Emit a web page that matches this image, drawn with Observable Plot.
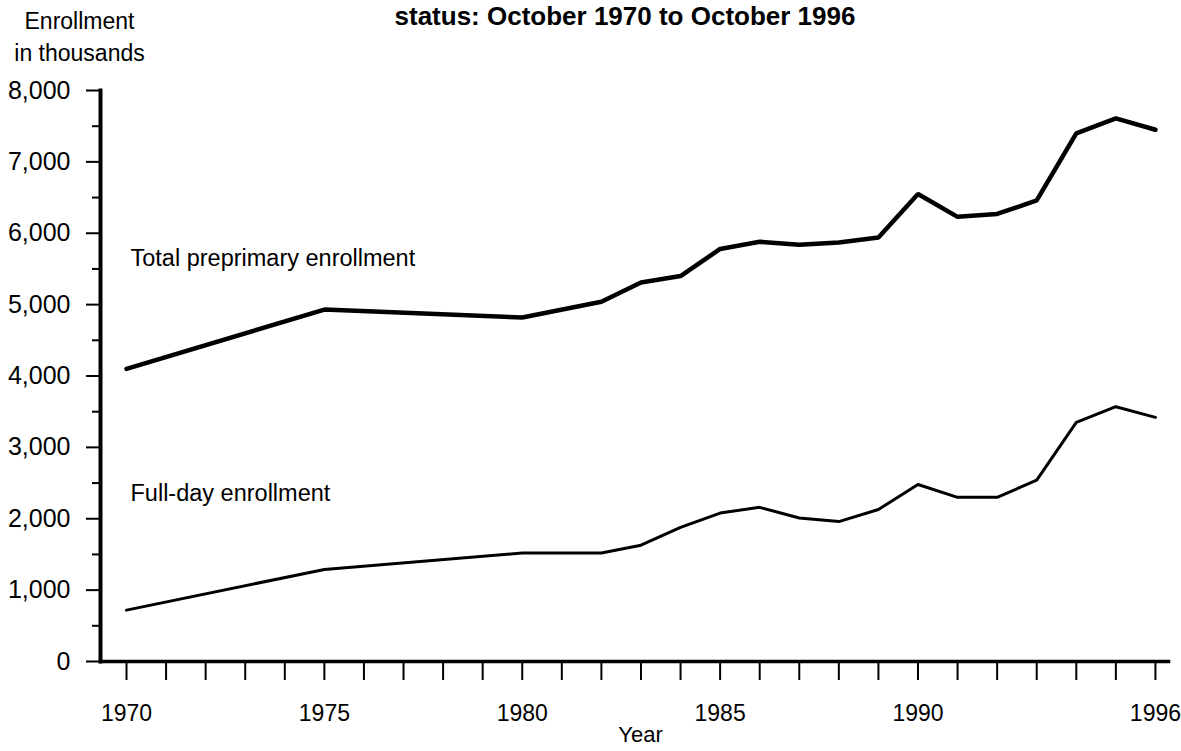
<!DOCTYPE html>
<html><head><meta charset="utf-8">
<script src="https://cdn.jsdelivr.net/npm/d3@7"></script>
<script src="https://cdn.jsdelivr.net/npm/@observablehq/plot@0.6"></script>
<style>
body{margin:0;background:#fff;overflow:hidden}
#wrap{position:relative;width:1181px;height:751px}
#title{position:absolute;left:0;width:1250px;text-align:center;top:2px;font:bold 26px "Liberation Sans",Arial,sans-serif;line-height:28px;white-space:nowrap;color:#000}
</style></head><body><div id="wrap"><div id="title">status: October 1970 to October 1996</div></div>
<script>
// Data (thousands)
const years   = [1970,1975,1980,1982,1983,1984,1985,1986,1987,1988,1989,1990,1991,1992,1993,1994,1995,1996];
const total   = [4100,4930,4820,5040,5310,5400,5780,5880,5840,5870,5940,6550,6230,6270,6460,7400,7610,7450];
const fullDay = [720,1290,1520,1520,1630,1880,2080,2160,2010,1960,2130,2480,2300,2300,2540,3350,3570,3420];

const seriesLabels = ["Total preprimary enrollment", "Full-day enrollment"];
const seriesLabelYear = [1970, 1970];
const seriesLabelValue = [5650, 2360];

const xTickYears = d3.range(1970, 1997);
const xLabelYears = [1970, 1975, 1980, 1985, 1990, 1996];
const yMajor = [0,1000,2000,3000,4000,5000,6000,7000,8000];
const yMinor = [500,1500,2500,3500,4500,5500,6500,7500];
const yLabel = "Enrollment\nin thousands";
const xLabel = "Year";

const totalData = years.map((yr, i) => ({year: yr, value: total[i]}));
const fullData = years.map((yr, i) => ({year: yr, value: fullDay[i]}));
const labelData = seriesLabels.map((t, i) => ({text: t, year: seriesLabelYear[i], value: seriesLabelValue[i]}));

const chart = Plot.plot({
  width: 1181, height: 751,
  marginLeft: 100, marginRight: 13, marginTop: 90, marginBottom: 90,
  x: {domain: [1969.343, 1996.33]},
  y: {domain: [0, 8000]},
  style: {fontFamily: '"Liberation Sans", Arial, sans-serif', color: "#000", background: "#fff", overflow: "visible"},
  marks: [
    Plot.axisY(yMajor, {tickSize: 14, tickPadding: 16, tickFormat: d3.format(","), fontSize: 25, strokeWidth: 2, label: null}),
    Plot.axisY(yMinor, {tickSize: 8, tickFormat: () => "", strokeWidth: 2, label: null}),
    Plot.axisX(xTickYears, {tickSize: 19, tickPadding: 24, fontSize: 23, strokeWidth: 2, label: null,
      tickFormat: d => xLabelYears.includes(d) ? String(d) : ""}),
    Plot.frame({anchor: "left", strokeWidth: 4, stroke: "#000"}),
    Plot.frame({anchor: "bottom", strokeWidth: 3.5, stroke: "#000"}),
    Plot.line(totalData, {x: "year", y: "value", stroke: "#000", strokeWidth: 4.5, strokeLinejoin: "miter"}),
    Plot.line(fullData, {x: "year", y: "value", stroke: "#000", strokeWidth: 3, strokeLinejoin: "miter"}),
    Plot.text(labelData, {x: "year", y: "value", text: "text", textAnchor: "start", dx: 4, fontSize: 23.5, fill: "#000"}),
    Plot.text([yLabel], {frameAnchor: "top-left", textAnchor: "middle", dx: -21, dy: -56, lineAnchor: "middle", lineHeight: 1.4, fontSize: 23, fill: "#000"}),
    Plot.text([xLabel], {frameAnchor: "bottom", dx: 6, dy: 80, fontSize: 22, fill: "#000"})
  ]
});
document.getElementById("wrap").appendChild(chart);
chart.style.position = "absolute";
chart.style.left = "0";
chart.style.top = "0";
document.getElementById("title").style.zIndex = "2";
</script>
</body></html>
